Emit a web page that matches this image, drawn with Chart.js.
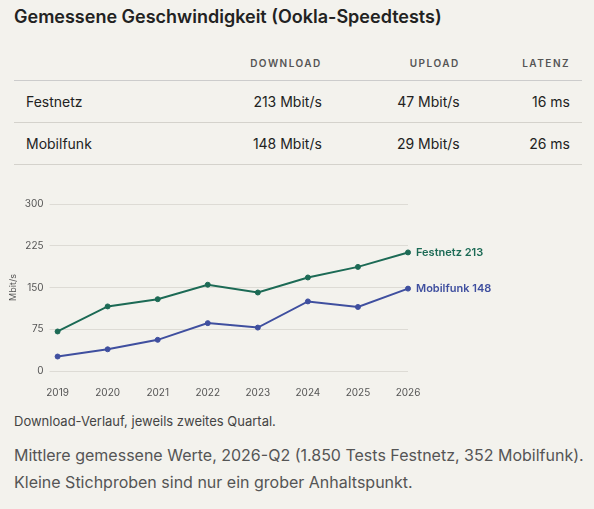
<!DOCTYPE html>
<html><head><meta charset="utf-8">
<script src="https://cdn.jsdelivr.net/npm/chart.js@4"></script>
<style>
body{margin:0;background:#f3f2ed;font-family:Inter,"Noto Sans",sans-serif;color:#222;width:594px;height:509px;overflow:hidden;position:relative}
h1{position:absolute;left:14px;top:6px;margin:0;font-size:18px;font-weight:600}
table{position:absolute;left:14px;top:56px;width:568px;border-collapse:collapse;font-size:14px}
th{font-size:10px;letter-spacing:1.5px;color:#555;font-weight:600;text-align:right;padding:0 12px 10px 0;border-bottom:1px solid #ccc;height:14px}
td{height:41px;border-bottom:1px solid #d4d2cc;text-align:right;padding:0 12px 0 0}
td:first-child{text-align:left;padding-left:12px}
#wrap{position:absolute;left:0;top:192px;width:594px;height:215px}
.cap{position:absolute;left:14px;font-size:13px;color:#444}
.note{position:absolute;left:14px;font-size:16px;color:#555;line-height:27px}
</style></head><body>
<h1>Gemessene Geschwindigkeit (Ookla-Speedtests)</h1>
<table>
<tr><th></th><th>DOWNLOAD</th><th>UPLOAD</th><th>LATENZ</th></tr>
<tr><td>Festnetz</td><td>213 Mbit/s</td><td>47 Mbit/s</td><td>16 ms</td></tr>
<tr><td>Mobilfunk</td><td>148 Mbit/s</td><td>29 Mbit/s</td><td>26 ms</td></tr>
</table>
<div id="wrap"><canvas id="c"></canvas></div>
<div class="cap" style="top:413px">Download-Verlauf, jeweils zweites Quartal.</div>
<div class="note" style="top:442px">Mittlere gemessene Werte, 2026-Q2 (1.850 Tests Festnetz, 352 Mobilfunk).<br>Kleine Stichproben sind nur ein grober Anhaltspunkt.</div>
<script>
const jahre = ['2019','2020','2021','2022','2023','2024','2025','2026'];
const festnetz = [71, 116, 129, 155, 141, 168, 187, 213];
const mobilfunk = [26, 39, 56, 86, 78, 125, 115, 148];
const yTicks = [0, 75, 150, 225, 300];

const endLabels = {
  id: 'endLabels',
  afterDatasetsDraw(chart) {
    const ctx = chart.ctx;
    chart.data.datasets.forEach((ds, i) => {
      const pts = chart.getDatasetMeta(i).data;
      const p = pts[pts.length - 1];
      ctx.save();
      ctx.font = '600 11px Inter';
      ctx.fillStyle = ds.borderColor;
      ctx.textBaseline = 'middle';
      ctx.fillText(ds.label + ' ' + ds.data[ds.data.length - 1], p.x + 8, p.y);
      ctx.restore();
    });
  }
};

new Chart(document.getElementById('c'), {
  type: 'line',
  data: {
    labels: jahre,
    datasets: [
      { label: 'Festnetz', data: festnetz, borderColor: '#1c6a55', backgroundColor: '#1c6a55' },
      { label: 'Mobilfunk', data: mobilfunk, borderColor: '#3f4f9f', backgroundColor: '#3f4f9f' }
    ]
  },
  options: {
    responsive: true, maintainAspectRatio: false, animation: false,
    layout: { padding: { left: 8, right: 186, top: 6, bottom: 0 } },
    elements: { line: { borderWidth: 2, tension: 0 }, point: { radius: 2.5 } },
    plugins: { legend: { display: false }, tooltip: { enabled: false } },
    scales: {
      x: {
        offset: false,
        grid: { display: false }, border: { display: false },
        ticks: { color: '#555', font: { family: 'Inter', size: 10 }, maxRotation: 0, padding: 8 }
      },
      y: {
        min: 0, max: 300,
        afterBuildTicks: a => { a.ticks = yTicks.map(v => ({ value: v })); },
        grid: { color: '#dddbd5' }, border: { display: false },
        ticks: { color: '#555', font: { family: 'Inter', size: 10 }, padding: 6 },
        title: { display: true, text: 'Mbit/s', color: '#555', font: { family: 'Inter', size: 9 }, padding: 0 }
      }
    }
  },
  plugins: [endLabels]
});
</script>
</body></html>
